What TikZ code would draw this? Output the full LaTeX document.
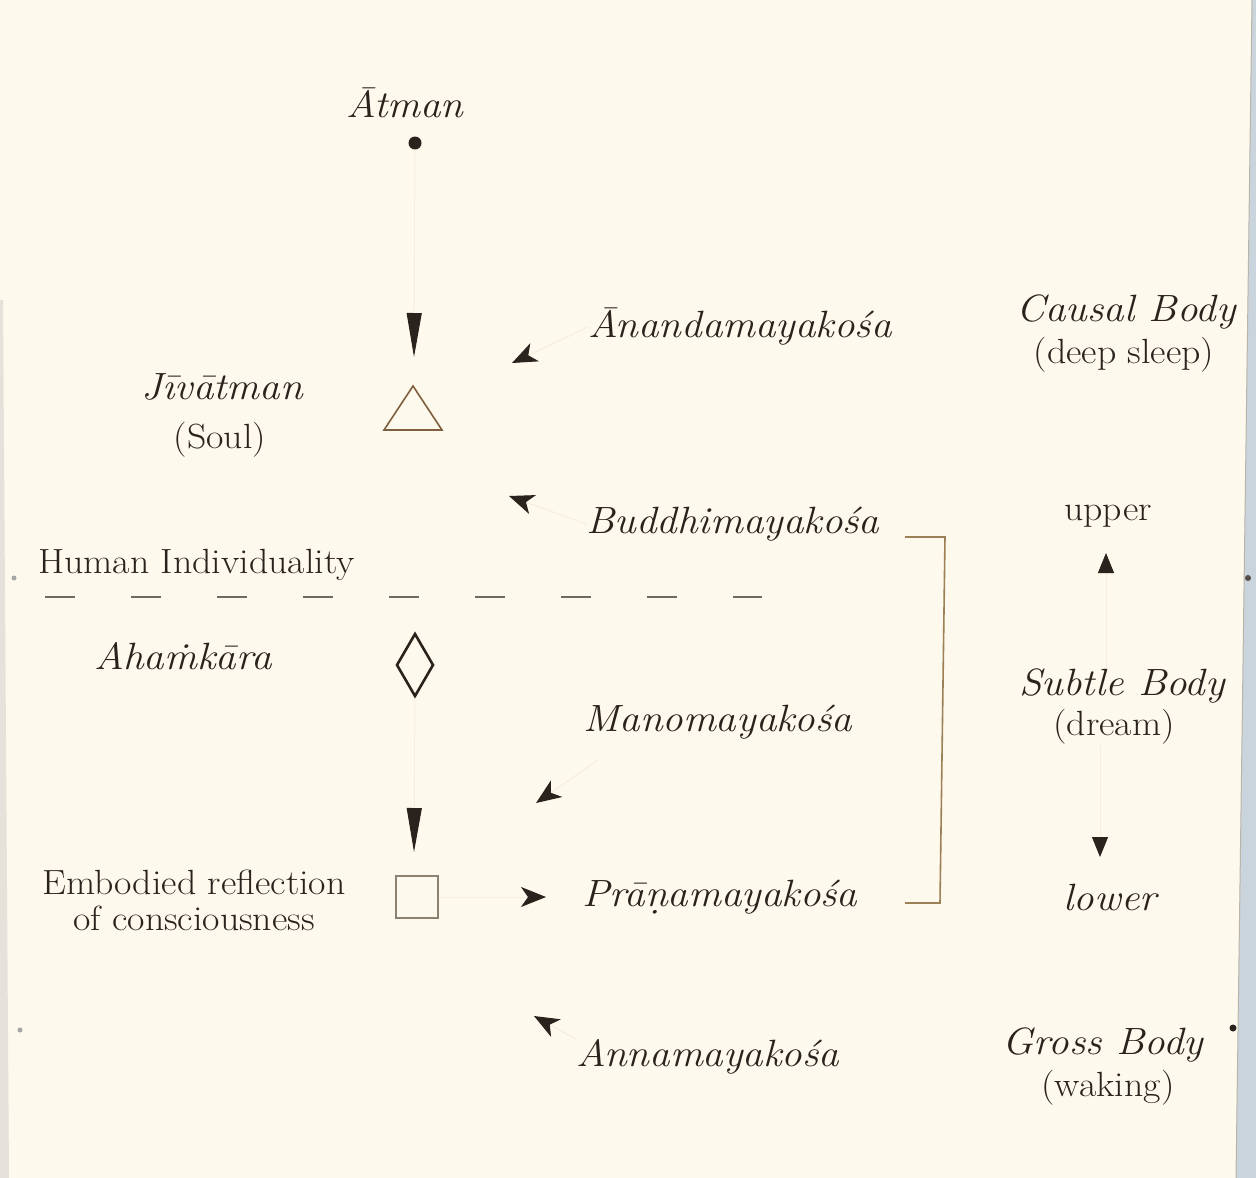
\documentclass[tikz,border=0pt]{standalone}
\usepackage{fontspec}
\setmainfont{Latin Modern Roman}[FakeStretch=1.08]
\usetikzlibrary{arrows.meta}
\definecolor{paper}{HTML}{FDF9EC}
\definecolor{ink}{HTML}{2A221C}
\definecolor{faint}{HTML}{F4EEDF}
\definecolor{tanline}{HTML}{9C8058}
\definecolor{tribrown}{HTML}{7E6040}
\definecolor{sqgray}{HTML}{8C8272}
\definecolor{dashgray}{HTML}{6E6A64}
\definecolor{pageedge}{HTML}{CAD4DC}
\definecolor{leftedge}{HTML}{E4E2DA}
\begin{document}
\begin{tikzpicture}[x=1pt,y=-1pt,
  it/.style={font=\fontsize{38}{42}\selectfont\itshape, text=ink, inner sep=0pt},
  rm/.style={font=\fontsize{35}{40}\selectfont, text=ink, inner sep=0pt},
  conn/.style={draw=faint, line width=1pt},
  vtip/.style={-{Triangle[length=44pt,width=15pt,color=ink]}},
  rtip/.style={-{Triangle[length=20pt,width=16pt,color=ink]}},
  stip/.style={-{Stealth[length=25pt,width=20pt,inset=7pt,color=ink]}}]
% page
\fill[paper] (0,0) rectangle (1256,1178);
\useasboundingbox (0,0) rectangle (1256,1178);
\fill[pageedge] (1252,0) -- (1256,0) -- (1256,1178) -- (1236,1178) -- cycle;
\draw[sqgray!60, line width=1pt] (1252,0) -- (1236,1178);
\fill[leftedge] (0,300) -- (3,300) -- (9,1178) -- (0,1178) -- cycle;
\fill[gray!70] (14,578) circle (2.5);
\fill[gray!70] (20,1030) circle (2.5);
\fill[ink!80] (1248,578) circle (3);
\fill[ink] (1233,1028) circle (3.5);

% left column
\node[it] (atman) at (405,103) {Ātman};
\node[circle, fill=ink, minimum size=13pt, inner sep=0pt] (dot) at (415,143) {};
\node[it] (jiva) at (222,387) {Jīvātman};
\node[rm] (soul) at (220,440) {(Soul)};
\coordinate (tri) at (413,408);
\draw[tribrown, line width=1.6pt, line join=miter] (384,430) -- (413,386) -- (442,430) -- cycle;
\node[rm, anchor=west] (human) at (38,565) {Human Individuality};
\draw[dashgray, line width=1.6pt, dash pattern=on 30pt off 56pt] (45,597) -- (762,597);
\node[it] (ahan) at (183,656) {Aha{\accent"02D9 m}kāra};
\coordinate (dia) at (415,665);
\draw[ink, line width=2.6pt, line join=miter] (415,634) -- (433,665) -- (415,696) -- (397,665) -- cycle;
\coordinate (diasouth) at (415,698);
\node[rm] (emb1) at (194,882) {Embodied reflection};
\node[rm] (emb2) at (194,918) {of consciousness};
\node[draw=sqgray, line width=1.3pt, minimum size=42pt, inner sep=0pt] (sq) at (417,897) {};

% kosas
\node[it] (anan) at (740,327) {Ānandamayakośa};
\node[it] (buddhi) at (733,524) {Buddhimayakośa};
\node[it] (mano) at (718,722) {Manomayakośa};
\node[it] (prana) at (720,897) {Prāṇamayakośa};
\node[it] (anna) at (708,1057) {Annamayakośa};

% bodies
\node[it] (causal) at (1126,312) {Causal Body};
\node[rm] (deep) at (1124,355) {(deep sleep)};
\node[rm] (upper) at (1108,516) {upper};
\node[it] (subtle) at (1122,686) {Subtle Body};
\node[rm] (dream) at (1114,727) {(dream)};
\node[it] (lower) at (1110,897) {lower};
\node[it] (gross) at (1103,1045) {Gross Body};
\node[rm] (waking) at (1108,1088) {(waking)};

% bracket
\draw[tanline, line width=1.6pt] (905,537) -- (945,537) -- (940,903) -- (905,903);

% arrow tips
\coordinate (t1) at (414,357);
\coordinate (t2) at (414,852);
\coordinate (ta) at (512,363);
\coordinate (tb) at (509,496);
\coordinate (tm) at (536,803);
\coordinate (ms) at (598,760);
\coordinate (tp) at (546,897);
\coordinate (tn) at (534,1016);
\coordinate (tu) at (1106,553);
\coordinate (td) at (1100,857);

% connectors
\draw[conn, vtip] (dot) -- (t1);
\draw[conn, vtip] (diasouth) -- (t2);
\draw[conn, stip] (anan.west) -- (ta);
\draw[conn, stip] (buddhi.west) -- (tb);
\draw[conn, stip] (ms) -- (tm);
\draw[conn, stip] (sq.east) -- (tp);
\draw[conn, stip] (anna.north west) -- (tn);
\draw[conn, rtip] (subtle.north -| tu) -- (tu);
\draw[conn, rtip] (dream.south -| td) -- (td);
\end{tikzpicture}
\end{document}
